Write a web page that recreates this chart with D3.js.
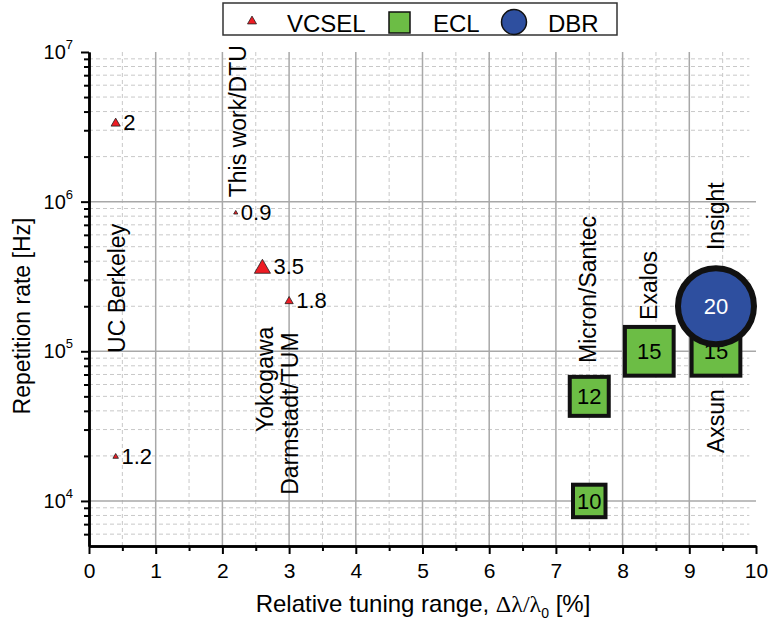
<!DOCTYPE html>
<html>
<head>
<meta charset="utf-8">
<script src="https://cdn.jsdelivr.net/npm/d3@7"></script>
<style>
  body { margin: 0; background: #fff; }
  svg { display: block; font-family: "Liberation Sans", Arial, sans-serif; }
</style>
</head>
<body>
<svg id="chart" width="768" height="623"></svg>
<script>
// data
var vcselX = [0.4, 0.4, 2.2, 2.6, 3.0],
    vcselY = [3.4e6, 2.0e4, 8.5e5, 3.7e5, 2.2e5],
    vcselVal = [2, 1.2, 0.9, 3.5, 1.8];
var eclX = [7.5, 7.5, 8.4, 9.4],
    eclY = [5.0e4, 1.0e4, 1.0e5, 1.0e5],
    eclVal = [12, 10, 15, 15];
var dbrX = [9.4],
    dbrY = [2.0e5],
    dbrVal = [20];
// group names, written rotated, starting (bottom end) at these data coords
var groupNames = ['UC Berkeley', 'This work/DTU', 'Yokogawa', 'Darmstadt/TUM',
                  'Micron/Santec', 'Exalos', 'Insight', 'Axsun'],
    groupX = [0.42, 2.24, 2.64, 3.01, 7.48, 8.4, 9.4, 9.4],
    groupY = [9.75e4, 1.07e6, 2.89e4, 1.10e4, 8.35e4, 1.62e5, 4.75e5, 2.09e4];
var xTicks = [0, 1, 2, 3, 4, 5, 6, 7, 8, 9, 10],
    yTicks = [1e4, 1e5, 1e6, 1e7],
    legendNames = ['VCSEL', 'ECL', 'DBR'];

var svg = d3.select('#chart'),
    x = d3.scaleLinear().domain([0, 10]).range([89, 756]),
    y = d3.scaleLog().domain([5e3, 1e7]).range([546, 52]),
    triW = d3.scaleLinear().domain([0, 1]).range([0, 4.6]),
    sqW = d3.scaleLinear().domain([0, 1]).range([0, 3.25]),
    circD = d3.scaleLinear().domain([0, 1]).range([0, 3.8]);

var red = '#ee1c24', green = '#6cbd45', blue = '#2e4f9f';

// minor values
var xMinor = d3.range(0.5, 10, 1),
    yMinor = [];
[3, 4, 5, 6].forEach(function(e) {
  for (var m = 2; m <= 9; m++) {
    var v = m * Math.pow(10, e);
    if (v > 5e3 && v < 1e7) yMinor.push(v);
  }
});

// grid
var grid = svg.append('g');
grid.selectAll('.ym').data(yMinor).enter().append('line')
  .attr('x1', x(0)).attr('x2', x(9.9))
  .attr('y1', function(d) { return y(d); }).attr('y2', function(d) { return y(d); })
  .attr('stroke', '#c8c8c8').attr('stroke-dasharray', '4,3');
grid.selectAll('.xm').data(xMinor).enter().append('line')
  .attr('y1', y(5e3)).attr('y2', y(1e7))
  .attr('x1', function(d) { return x(d); }).attr('x2', function(d) { return x(d); })
  .attr('stroke', '#c8c8c8').attr('stroke-dasharray', '4,3');
grid.selectAll('.yM').data(yTicks.slice(0, 3)).enter().append('line')
  .attr('x1', x(0)).attr('x2', x(10))
  .attr('y1', function(d) { return y(d); }).attr('y2', function(d) { return y(d); })
  .attr('stroke', '#a8a8a8').attr('stroke-width', 1.5);
grid.selectAll('.xM').data(xTicks.slice(1, 10)).enter().append('line')
  .attr('y1', y(5e3)).attr('y2', y(1e7))
  .attr('x1', function(d) { return x(d); }).attr('x2', function(d) { return x(d); })
  .attr('stroke', '#a8a8a8').attr('stroke-width', 1.5);

// axes
function styleAxis(g) {
  g.select('.domain').attr('stroke', '#000').attr('stroke-width', 2.5);
  g.selectAll('.tick line').attr('stroke', '#000').attr('stroke-width', 2);
  g.selectAll('.tick text').attr('fill', '#000');
}
svg.append('g').attr('transform', 'translate(0,' + y(5e3) + ')')
  .call(d3.axisBottom(x).tickValues(xMinor).tickSize(5).tickSizeOuter(0).tickFormat(''))
  .call(styleAxis);
svg.append('g').attr('transform', 'translate(0,' + y(5e3) + ')')
  .call(d3.axisBottom(x).tickValues(xTicks).tickSize(8).tickSizeOuter(0).tickPadding(9))
  .call(styleAxis)
  .selectAll('.tick text').attr('font-size', 21).attr('font-family', null);
svg.append('g').attr('transform', 'translate(' + x(0) + ',0)')
  .call(d3.axisLeft(y).tickValues(yMinor).tickSize(5).tickSizeOuter(0).tickFormat(''))
  .call(styleAxis);
var yAx = svg.append('g').attr('transform', 'translate(' + x(0) + ',0)')
  .call(d3.axisLeft(y).tickValues(yTicks).tickSize(8).tickSizeOuter(0).tickPadding(10)
        .tickFormat(function() { return ''; }))
  .call(styleAxis);
yAx.selectAll('.tick text').each(function(d) {
  var t = d3.select(this).attr('font-size', 20).attr('font-family', null).attr('x', -16);
  t.text('10');
  t.append('tspan').attr('font-size', 13).attr('dy', '-0.75em')
    .text(Math.round(Math.log10(d)));
});

// axis titles
svg.append('text')
  .attr('transform', 'translate(30,316) rotate(-90)')
  .attr('text-anchor', 'middle').attr('font-size', 23)
  .text('Repetition rate [Hz]');
var xt = svg.append('text')
  .attr('x', 423).attr('y', 612)
  .attr('text-anchor', 'middle').attr('font-size', 24);
xt.append('tspan').text('Relative tuning range, ');
xt.append('tspan').attr('font-family', '"Liberation Serif", serif').text('\u0394\u03bb/\u03bb');
xt.append('tspan').attr('font-size', 14).attr('dy', 6).text('0');
xt.append('tspan').attr('dy', -6).text(' [%]');

// markers
function triPath(w) {
  var h = 0.87 * w;
  return 'M0,' + (-h / 2) + 'L' + (w / 2) + ',' + (h / 2) + 'L' + (-w / 2) + ',' + (h / 2) + 'Z';
}
var marks = svg.append('g');
vcselX.forEach(function(vx, i) {
  var px = x(vx), py = y(vcselY[i]), w = triW(vcselVal[i]);
  marks.append('path').attr('d', triPath(w))
    .attr('transform', 'translate(' + px + ',' + py + ')')
    .attr('fill', red).attr('stroke', '#222').attr('stroke-width', 0.8);
  marks.append('text').attr('x', px + w / 2 + 3).attr('y', py).attr('dy', '0.35em')
    .attr('font-size', 22).text(vcselVal[i]);
});
eclX.forEach(function(vx, i) {
  var px = x(vx), py = y(eclY[i]), s = sqW(eclVal[i]);
  marks.append('rect').attr('x', px - s / 2).attr('y', py - s / 2)
    .attr('width', s).attr('height', s)
    .attr('fill', green).attr('stroke', '#111').attr('stroke-width', 4);
  marks.append('text').attr('x', px).attr('y', py).attr('dy', '0.35em')
    .attr('text-anchor', 'middle').attr('font-size', 22).text(eclVal[i]);
});
dbrX.forEach(function(vx, i) {
  var px = x(vx), py = y(dbrY[i]), d = circD(dbrVal[i]);
  marks.append('circle').attr('cx', px).attr('cy', py).attr('r', d / 2)
    .attr('fill', blue).attr('stroke', '#111').attr('stroke-width', 6);
  marks.append('text').attr('x', px).attr('y', py).attr('dy', '0.35em')
    .attr('text-anchor', 'middle').attr('font-size', 22).attr('fill', '#fff').text(dbrVal[i]);
});

// group names
groupNames.forEach(function(n, i) {
  svg.append('text')
    .attr('transform', 'translate(' + x(groupX[i]) + ',' + y(groupY[i]) + ') rotate(-90)')
    .attr('dy', '0.35em').attr('font-size', 23).text(n);
});

// legend
var lg = svg.append('g');
lg.append('rect').attr('x', 223).attr('y', 3).attr('width', 394).attr('height', 32)
  .attr('fill', '#fff').attr('stroke', '#333').attr('stroke-width', 1.5);
lg.append('path').attr('d', triPath(9)).attr('transform', 'translate(252,20)')
  .attr('fill', red).attr('stroke', '#222').attr('stroke-width', 0.8);
lg.append('rect').attr('x', 389).attr('y', 12).attr('width', 21).attr('height', 21)
  .attr('fill', green).attr('stroke', '#111').attr('stroke-width', 1.5);
lg.append('circle').attr('cx', 514).attr('cy', 22).attr('r', 12.5)
  .attr('fill', blue).attr('stroke', '#111').attr('stroke-width', 1.5);
[287, 433, 548].forEach(function(lx, i) {
  lg.append('text').attr('x', lx).attr('y', 32).attr('font-size', 24).text(legendNames[i]);
});
</script>
</body>
</html>
